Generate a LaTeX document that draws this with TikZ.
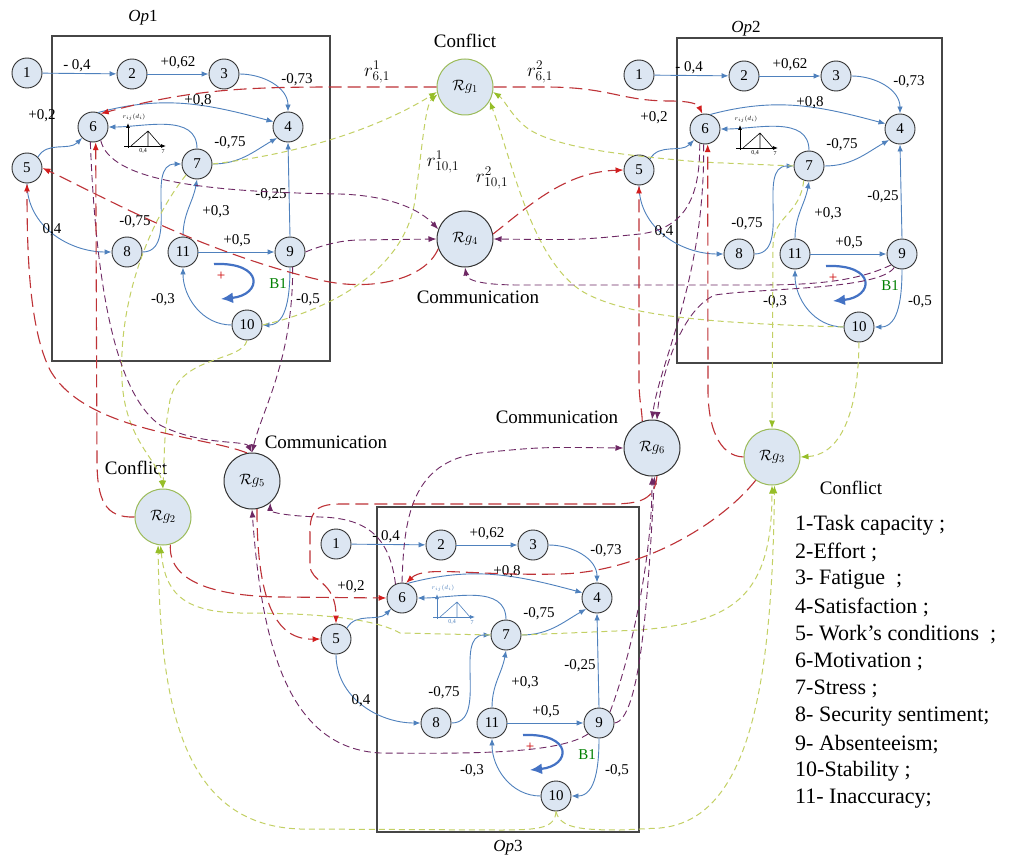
\RequirePackage{fix-cm}
\documentclass[tikz,border=0pt]{standalone}
\usepackage{fontspec}
\setmainfont{Liberation Serif}
\usetikzlibrary{arrows.meta}
\definecolor{edgeblue}{RGB}{79,129,189}
\definecolor{nodefill}{RGB}{220,230,242}
\definecolor{nodedraw}{RGB}{50,50,50}
\definecolor{rgreen}{RGB}{155,187,89}
\definecolor{redl}{RGB}{190,50,55}
\definecolor{reda}{RGB}{210,30,30}
\definecolor{purl}{RGB}{110,40,100}
\definecolor{yell}{RGB}{195,208,100}
\definecolor{yela}{RGB}{150,190,40}
\definecolor{loopblue}{RGB}{68,114,196}
\definecolor{boxgray}{RGB}{70,70,70}
\tikzset{
  cn/.style={circle, draw=nodedraw, fill=nodefill, line width=0.9pt, minimum size=30pt, inner sep=0pt, font=\fontsize{15}{15}\selectfont},
  rgd/.style={circle, draw=nodedraw, fill=nodefill, line width=1pt, minimum size=56pt, inner sep=0pt, font=\fontsize{15}{15}\selectfont},
  rgg/.style={rgd, draw=rgreen},
  be/.style={draw=edgeblue, line width=0.9pt, -{Latex[length=7pt,width=5.5pt]}},
  boxl/.style={draw=boxgray, line width=1.2pt},
  lb/.style={font=\fontsize{15}{15}\selectfont, inner sep=0pt},
  tl/.style={font=\fontsize{19}{19}\selectfont, inner sep=0pt},
  lgd/.style={font=\fontsize{22}{22}\selectfont, inner sep=0pt, anchor=west},
  rd/.style={draw=redl, line width=1.1pt, dash pattern=on 13pt off 6pt, -{Latex[length=8pt,width=6pt,color=reda]}},
  pd/.style={draw=purl, line width=0.9pt, dash pattern=on 7pt off 4pt, -{Latex[length=8pt,width=6pt,color=purl]}},
  yd/.style={draw=yell, line width=1pt, dash pattern=on 6pt off 4pt, -{Latex[length=8pt,width=6pt,color=yela]}},
  loopa/.style={draw=loopblue, line width=2.2pt, -{Latex[length=12pt,width=11pt]}}
}
% #1 prefix, #2 dx, #3 dy, #4 box left, #5 icon colour
\newcommand{\opgraph}[5]{%
\begin{scope}[shift={(#2,#3)}]
\draw[boxl] (#4,36) rectangle (330,361);
\node[cn] (#1-1) at (27,73) {1};
\node[cn] (#1-2) at (132,74) {2};
\node[cn] (#1-3) at (224,74) {3};
\node[cn] (#1-4) at (288,127) {4};
\node[cn] (#1-5) at (27,168) {5};
\node[cn] (#1-6) at (93,127) {6};
\node[cn] (#1-7) at (197,164) {7};
\node[cn] (#1-8) at (127,252) {8};
\node[cn] (#1-9) at (290,252) {9};
\node[cn] (#1-10) at (247,325) {10};
\node[cn] (#1-11) at (183,252) {11};
\draw[be] (#1-1) -- (#1-2);
\draw[be] (#1-2) -- (#1-3);
\draw[be] (#1-3.east) to[out=0,in=90] (#1-4.north);
\draw[be] (#1-6.70) to[out=15,in=165] (#1-4.160);
\draw[be] (#1-7.north) to[out=90,in=0] (#1-6.east);
\draw[be] (#1-7.east) to[out=0,in=210] (#1-4.south west);
\draw[be] (#1-5.north east) to[out=60,in=225] (#1-6.south west);
\draw[be] (#1-5.south) to[out=270,in=180] (#1-8.west);
\draw[be] (#1-8.east) to[out=0,in=180] (#1-7.west);
\draw[be] (#1-11.north) to[out=90,in=260] (#1-7.south);
\draw[be] (#1-11) -- (#1-9);
\draw[be] (#1-9.north) -- (#1-4.south);
\draw[be] (#1-9.south) to[out=270,in=0] (#1-10.east);
\draw[be] (#1-10.west) to[out=180,in=270] (#1-11.south);
\draw[loopa] (214,264) .. controls (265,262) and (262,295) .. (221,299);
\node[lb] (#1-t1) at (77,66) {- 0,4};
\node[lb] (#1-t2) at (178,63) {+0,62};
\node[lb] (#1-t3) at (297,80) {-0,73};
\node[lb] (#1-t4) at (198,101) {+0,8};
\node[lb] (#1-t5) at (42,116) {+0,2};
\node[lb] (#1-t6) at (230,143) {-0,75};
\node[lb] (#1-t7) at (271,195) {-0,25};
\node[lb] (#1-t8) at (216,212) {+0,3};
\node[lb] (#1-t9) at (52,230) {0,4};
\node[lb] (#1-t10) at (135,222) {-0,75};
\node[lb] (#1-t11) at (237,241) {+0,5};
\node[lb] (#1-t12) at (163,300) {-0,3};
\node[lb] (#1-t13) at (308,300) {-0,5};
\node[lb, text=green!50!black] (#1-t14) at (278,284) {B1};
\node[lb, text=red!80!black] (#1-t15) at (221,276) {+};
\draw[#5, line width=0.8pt, -{Latex[length=5pt,width=4pt]}] (128,148) -- (128,123);
\draw[#5, line width=0.8pt, -{Latex[length=5pt,width=4pt]}] (124,146) -- (166,146);
\draw[#5, line width=0.6pt] (131,146) -- (148,131) -- (161,146) (148,131) -- (148,146);
\node[#5, font=\fontsize{6}{6}\selectfont, inner sep=0pt] (#1-i1) at (134,117) {$r_{ij}(d_i)$};
\node[#5, font=\fontsize{6}{6}\selectfont, inner sep=0pt] (#1-i2) at (143,151) {0,4};
\node[#5, font=\fontsize{6}{6}\selectfont, inner sep=0pt] (#1-i3) at (163,152) {7};
\end{scope}}
\begin{document}
\begin{tikzpicture}[x=1pt,y=-1pt]
\useasboundingbox[fill=white] (0,0) rectangle (1010,864);
\opgraph{a}{0}{0}{52}{black}
\opgraph{b}{612}{2}{65}{black}
\opgraph{c}{309}{471}{68}{edgeblue}
\node[font=\fontsize{17}{17}\selectfont] (op1l) at (143,18) {\textit{Op}1};
\node[font=\fontsize{17}{17}\selectfont] (op2l) at (746,29) {\textit{Op}2};
\node[font=\fontsize{17}{17}\selectfont] (op3l) at (508,848) {\textit{Op}3};
% regulation nodes
\node[rgg] (Rg1) at (465,87) {$\mathcal{R}g_{1}$};
\node[rgd] (Rg4) at (465,239) {$\mathcal{R}g_{4}$};
\node[rgd] (Rg5) at (252,481) {$\mathcal{R}g_{5}$};
\node[rgg] (Rg2) at (163,517) {$\mathcal{R}g_{2}$};
\node[rgd] (Rg6) at (652,448) {$\mathcal{R}g_{6}$};
\node[rgg] (Rg3) at (772,457) {$\mathcal{R}g_{3}$};
\node[tl] (cf1) at (465,41) {Conflict};
\node[tl] (cm4) at (478,297) {Communication};
\node[tl] (cm5) at (326,442) {Communication};
\node[tl] (cf2) at (136,468) {Conflict};
\node[tl] (cm6) at (557,417) {Communication};
\node[tl] (cf3) at (851,488) {Conflict};
\node[tl] (r1) at (377,72) {$r^{1}_{6,1}$};
\node[tl] (r2) at (540,72) {$r^{2}_{6,1}$};
\node[tl] (r3) at (443,162) {$r^{1}_{10,1}$};
\node[tl] (r4) at (492,178) {$r^{2}_{10,1}$};
% yellow-green: inputs of conflict regulations
\draw[yd] (a-7.east) .. controls (330,150) and (400,115) .. (Rg1.190);
\draw[yd] (a-10.east) .. controls (330,310) and (405,270) .. (415,200) .. controls (422,150) and (425,105) .. (Rg1.195);
\draw[yd] (b-7.west) -- (700,162) .. controls (620,155) and (560,148) .. (530,130) .. controls (512,118) and (505,100) .. (Rg1.-10);
\draw[yd] (b-10.west) .. controls (700,323) and (620,315) .. (580,290) .. controls (530,255) and (512,160) .. (Rg1.-30);
\draw[yd] (a-7.225) .. controls (150,220) and (118,300) .. (122,380) .. controls (125,440) and (158,460) .. (Rg2.north);
\draw[yd] (a-10.south) .. controls (242,362) and (180,355) .. (170,400) .. controls (165,430) .. (Rg2.north);
\draw[yd] (c-7.west) -- (400,633) .. controls (370,616) and (300,613) .. (240,613) .. controls (180,612) and (165,590) .. (Rg2.-95);
\draw[yd] (c-10.south) .. controls (555,828) and (540,830) .. (500,830) -- (300,829) .. controls (180,825) and (160,700) .. (Rg2.-100);
\draw[yd] (b-7.-110) .. controls (800,215) and (774,215) .. (773,245) -- (Rg3.north);
\draw[yd] (b-10.south) .. controls (858,425) and (835,455) .. (Rg3.east);
\draw[yd] (c-7.east) -- (640,630) .. controls (730,622) and (772,600) .. (Rg3.south);
\draw[yd] (c-10.south) .. controls (560,828) and (580,830) .. (620,830) -- (660,828) .. controls (745,820) and (772,700) .. (Rg3.-85);
% purple: inputs of communication regulations
\draw[pd] (a-6.-60) .. controls (110,180) and (200,192) .. (340,194) .. controls (400,196) and (425,215) .. (Rg4.160);
\draw[pd] (a-9.east) .. controls (320,246) and (340,240) .. (360,240) -- (Rg4.west);
\draw[pd] (b-6.-110) .. controls (700,190) and (690,228) .. (640,234) .. controls (580,240) .. (Rg4.east);
\draw[pd] (b-9.south west) .. controls (860,280) and (820,285) .. (760,285) -- (520,285) .. controls (480,285) and (467,280) .. (Rg4.south);
\draw[pd] (b-6.-95) .. controls (705,280) and (660,360) .. (Rg6.north);
\draw[pd] (b-9.-120) .. controls (880,290) and (760,288) .. (715,295) .. controls (680,310) and (660,380) .. (Rg6.80);
\draw[pd] (a-6.-100) .. controls (95,260) and (110,390) .. (160,425) .. controls (200,446) and (245,440) .. (Rg5.north);
\draw[pd] (a-9.-80) .. controls (293,360) and (262,410) .. (Rg5.north);
\draw[pd] (c-6.115) .. controls (390,540) and (370,518) .. (320,517) .. controls (285,516) and (270,512) .. (Rg5.-50);
\draw[pd] (c-9.south west) .. controls (560,753) and (480,754) .. (380,753) .. controls (290,748) and (262,650) .. (Rg5.south);
\draw[pd] (c-6.90) .. controls (404,520) and (410,462) .. (480,453) .. controls (540,447) .. (Rg6.west);
\draw[pd] (c-9.north east) .. controls (630,660) and (652,560) .. (Rg6.south);
\draw[pd] (c-9.east) .. controls (640,720) and (648,600) .. (Rg6.-85);
% red: outputs of regulations
\draw[rd] (Rg1.west) -- (335,87) to[out=180,in=15] (a-6.60);
\draw[rd] (Rg1.east) -- (545,87) .. controls (610,87) and (620,101) .. (670,101) .. controls (690,101) and (698,104) .. (b-6.100);
\draw[rd] (Rg2.west) .. controls (105,518) and (97,500) .. (97,460) -- (a-6.-80);
\draw[rd] (Rg2.-75) .. controls (168,580) and (210,596) .. (280,597) -- (c-6.west);
\draw[rd] (Rg3.west) .. controls (718,456) and (708,425) .. (708,390) -- (b-6.-80);
\draw[rd] (Rg3.235) .. controls (720,525) and (640,572) .. (560,574) .. controls (470,576) and (425,565) .. (c-6.75);
\draw[rd] (Rg4.200) .. controls (425,280) and (370,292) .. (320,280) .. controls (200,252) and (100,195) .. (a-5.east);
\draw[rd] (Rg4.10) .. controls (530,205) and (565,172) .. (b-5.west);
\draw[rd] (Rg5.100) .. controls (205,436) and (85,432) .. (50,370) .. controls (30,330) and (27,260) .. (a-5.south);
\draw[rd] (Rg5.-80) .. controls (257,600) and (275,640) .. (c-5.west);
\draw[rd] (Rg6.110) .. controls (642,410) and (639,400) .. (639,380) -- (b-5.south);
\draw[rd] (Rg6.-80) .. controls (655,500) and (640,504) .. (610,504) -- (340,504) .. controls (312,504) and (310,515) .. (310,535) -- (310,565) .. controls (310,583) and (336,580) .. (c-5.north);
% legend
\foreach \t [count=\i] in {1-Task capacity ;,2-Effort ;,3- Fatigue\ \ ;,4-Satisfaction ;,5- Work’s conditions\ \ ;,6-Motivation ;,7-Stress ;,8- Security sentiment;,9- Absenteeism;,10-Stability ;,11- Inaccuracy;}
  \node[lgd] (lg\i) at (795,{525+27.4*(\i-1)}) {\t};
\end{tikzpicture}
\end{document}
